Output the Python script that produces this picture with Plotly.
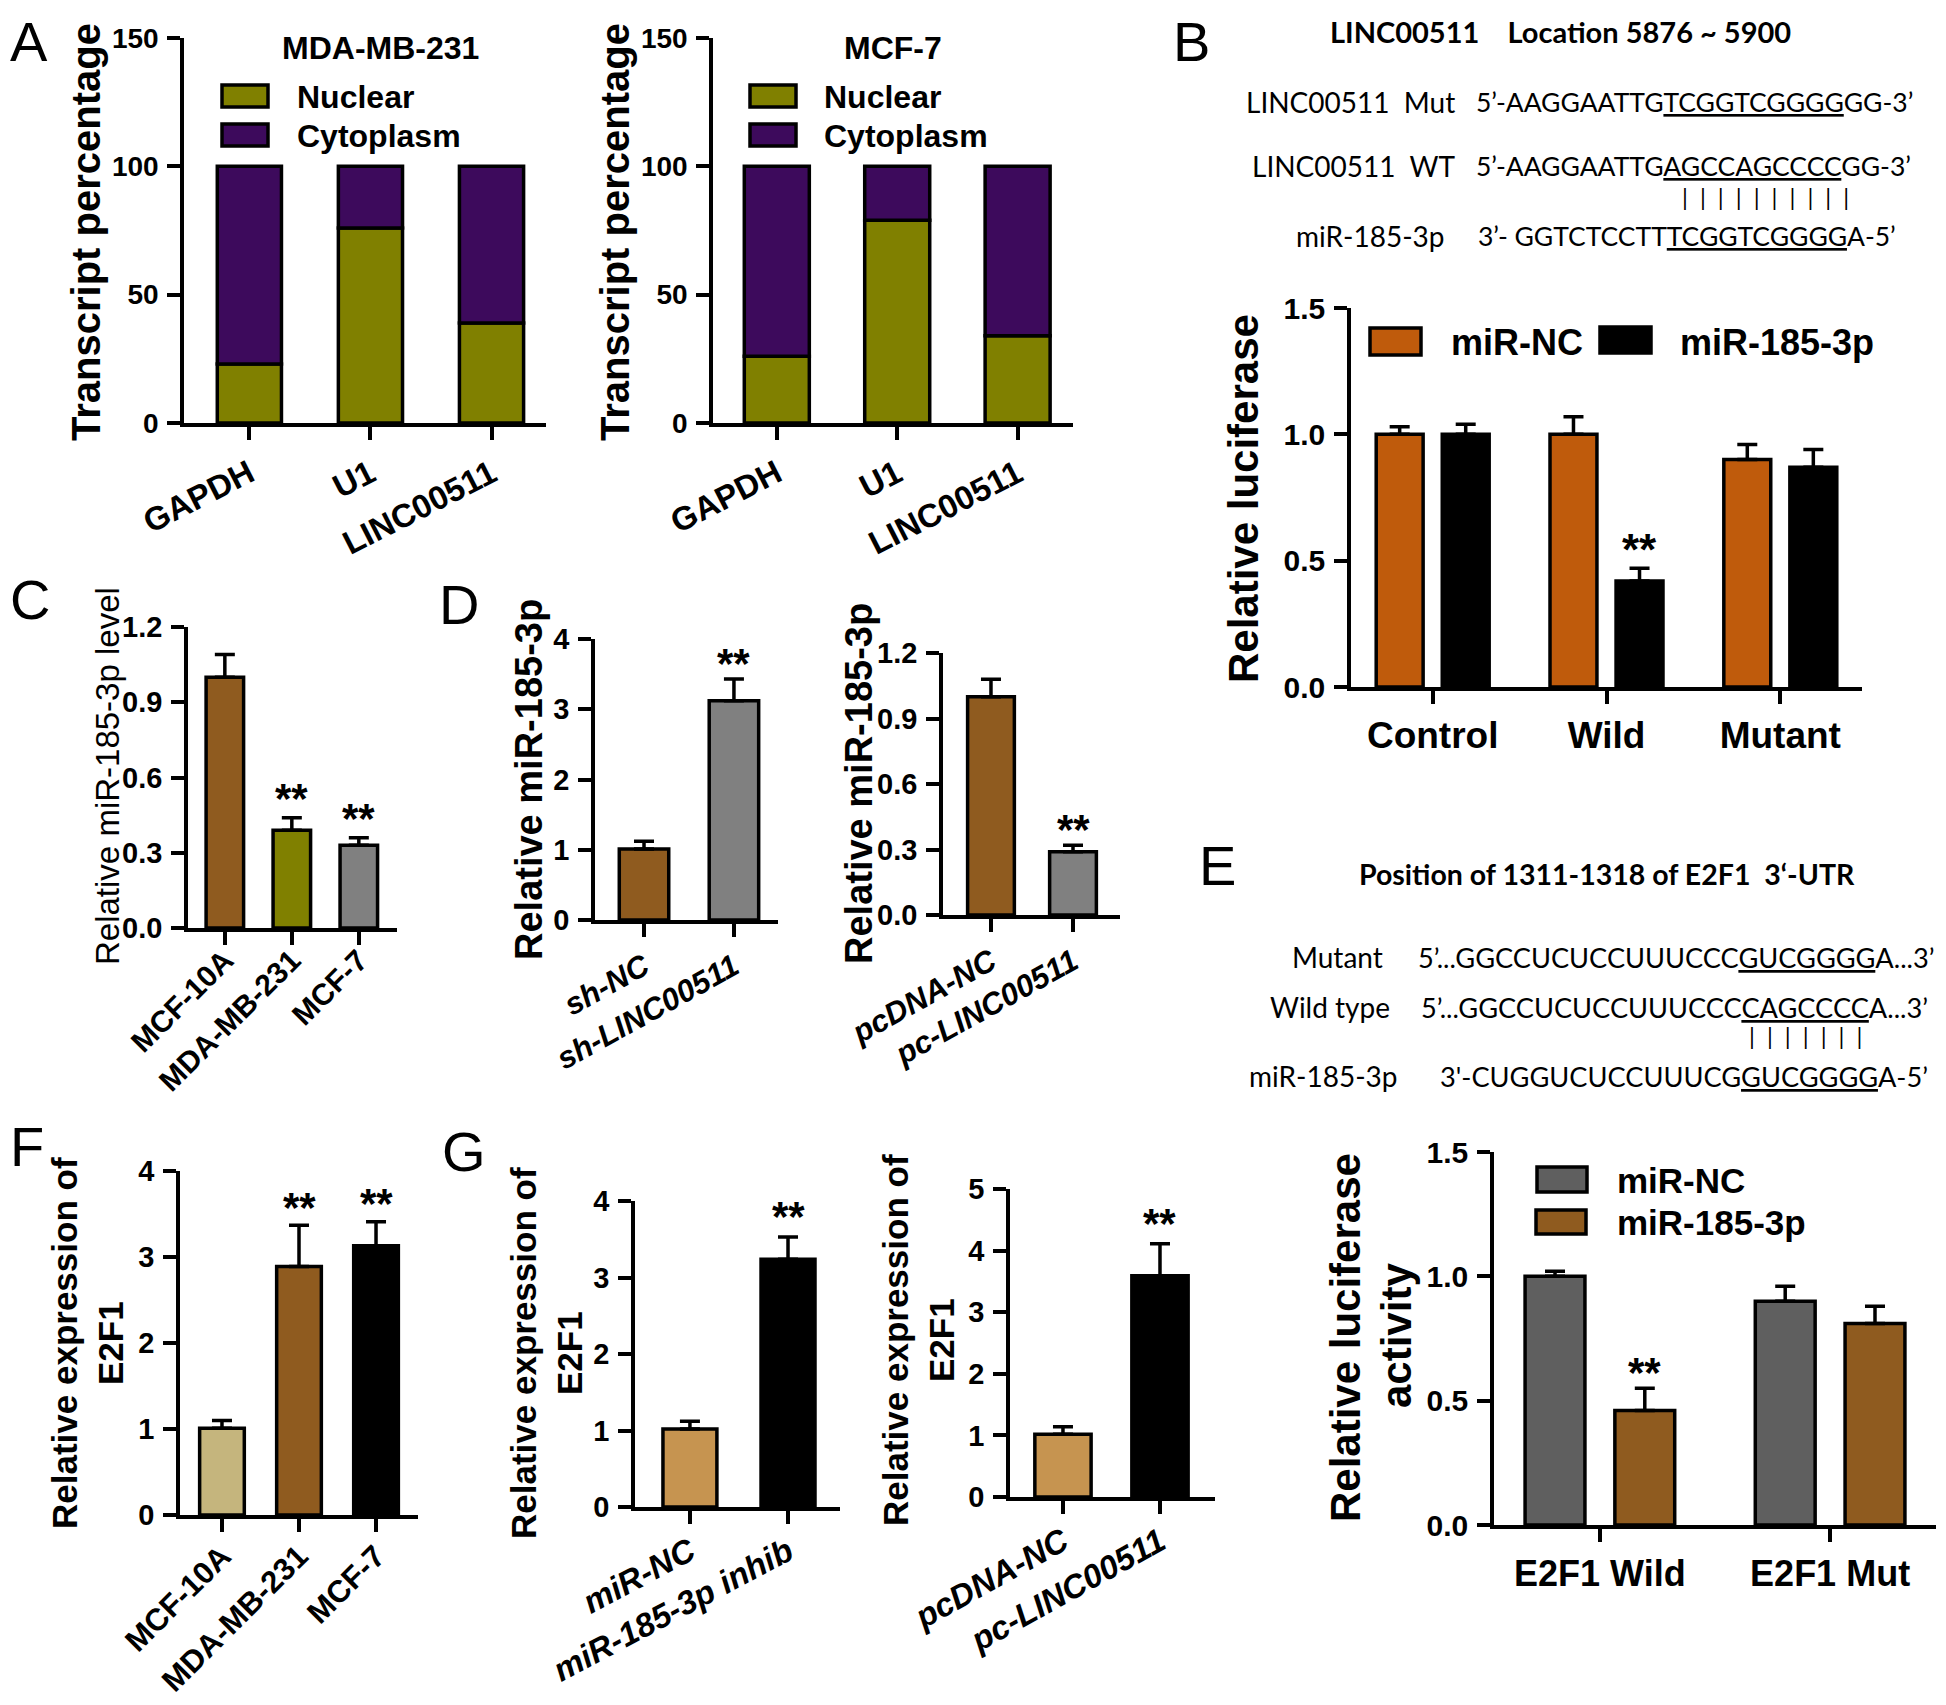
import plotly.graph_objects as go

W, H = 1946, 1705
OFF = 8  # page body margin that the browser adds around the figure
AX = "Liberation Sans, Arial, sans-serif"
SEQ = "Lato, Carlito, Calibri, sans-serif"

# ---------------- data ----------------
# Panel A: nuclear / cytoplasmic fractions (%)
a_genes = ["GAPDH", "U1", "LINC00511"]
a_mda_nuclear = [23, 76, 39]
a_mda_cyto = [77, 24, 61]
a_mcf_nuclear = [26, 79, 34]
a_mcf_cyto = [74, 21, 66]
a_ticks = [0, 50, 100, 150]

# Panel B: luciferase reporter (LINC00511)
b_groups = ["Control", "Wild", "Mutant"]
b_nc = [1.00, 1.00, 0.90]
b_nc_sd = [0.03, 0.07, 0.06]
b_mir = [1.00, 0.42, 0.87]
b_mir_sd = [0.04, 0.05, 0.07]
b_sig = ["", "**", ""]
b_ticks = [0.0, 0.5, 1.0, 1.5]

# Panel C
c_cells = ["MCF-10A", "MDA-MB-231", "MCF-7"]
c_vals = [1.00, 0.39, 0.33]
c_sd = [0.09, 0.05, 0.03]
c_sig = ["", "**", "**"]
c_ticks = [0.0, 0.3, 0.6, 0.9, 1.2]

# Panel D
d1_groups = ["sh-NC", "sh-LINC00511"]
d1_vals = [1.01, 3.12]
d1_sd = [0.11, 0.31]
d1_sig = ["", "**"]
d1_ticks = [0, 1, 2, 3, 4]
d2_groups = ["pcDNA-NC", "pc-LINC00511"]
d2_vals = [1.00, 0.29]
d2_sd = [0.08, 0.03]
d2_sig = ["", "**"]
d2_ticks = [0.0, 0.3, 0.6, 0.9, 1.2]

# Panel E: luciferase reporter (E2F1 3'-UTR)
e_groups = ["E2F1 Wild", "E2F1 Mut"]
e_nc = [1.00, 0.90]
e_nc_sd = [0.02, 0.06]
e_mir = [0.46, 0.81]
e_mir_sd = [0.09, 0.07]
e_sig = ["**", ""]
e_ticks = [0.0, 0.5, 1.0, 1.5]

# Panel F
f_cells = ["MCF-10A", "MDA-MB-231", "MCF-7"]
f_vals = [1.01, 2.89, 3.13]
f_sd = [0.09, 0.48, 0.28]
f_sig = ["", "**", "**"]
f_ticks = [0, 1, 2, 3, 4]

# Panel G
g1_groups = ["miR-NC", "miR-185-3p inhib"]
g1_vals = [1.02, 3.24]
g1_sd = [0.10, 0.29]
g1_sig = ["", "**"]
g1_ticks = [0, 1, 2, 3, 4]
g2_groups = ["pcDNA-NC", "pc-LINC00511"]
g2_vals = [1.02, 3.59]
g2_sd = [0.12, 0.52]
g2_sig = ["", "**"]
g2_ticks = [0, 1, 2, 3, 4, 5]

# ---------------- colours ----------------
OLIVE = "#808000"
PURPLE = "#3d0a5c"
ORANGE = "#bf5b0c"
BROWN = "#8f5b1f"
GRAY = "#808080"
DGRAY = "#5f5f5f"
KHAKI = "#c5b57d"
TAN = "#c69450"
BLACK = "#000000"
LW = 3.5

fig = go.Figure()
layout = dict(width=W, height=H, autosize=False,
              margin=dict(l=0, r=0, t=0, b=0, pad=0, autoexpand=False),
              paper_bgcolor="white", plot_bgcolor="white",
              barmode="overlay", showlegend=False)
ann = []
shapes = []


def ref(n):
    return ("x", "y") if n == 1 else (f"x{n}", f"y{n}")


def px(x):
    return (x - OFF) / W


def py(y):
    return 1 - (y - OFF) / H


def axes(n, x0, x1, ytop, ybot, xr, yticks, yfmt, tfs, xfs, angle, italic=False, standoff=6):
    xr_, yr_ = ref(n)
    xa = "xaxis" if n == 1 else f"xaxis{n}"
    ya = "yaxis" if n == 1 else f"yaxis{n}"
    common = dict(showline=True, linewidth=LW, linecolor="black", ticks="outside",
                  ticklen=13, tickwidth=LW, tickcolor="black", showgrid=False,
                  zeroline=False, fixedrange=True, automargin=False)
    layout[xa] = dict(domain=[px(x0), px(x1)], anchor=yr_, range=xr, tickangle=angle,
                      ticklabelstandoff=standoff,
                      tickfont=dict(family=AX, size=xfs, color="black", weight="bold",
                                    style="italic" if italic else "normal"),
                      **common)
    layout[ya] = dict(domain=[py(ybot), py(ytop)], anchor=xr_,
                      range=[yticks[0], yticks[-1]], tickvals=yticks,
                      ticktext=[format(v, yfmt) for v in yticks], ticklabelstandoff=3,
                      tickfont=dict(family=AX, size=tfs, color="black", weight="bold"),
                      **common)


def bars(n, cats, vals, colors, sd=None, width=0.56, offset=None, base=None, name=None):
    xr_, yr_ = ref(n)
    kw = dict(x=cats, y=vals, width=width, xaxis=xr_, yaxis=yr_, name=name,
              marker=dict(color=colors, line=dict(color="black", width=LW)))
    if offset is not None:
        kw["offset"] = offset
    if base is not None:
        kw["base"] = base
    if sd is not None:
        kw["error_y"] = dict(type="data", symmetric=False, array=sd,
                             arrayminus=[0] * len(sd), thickness=LW, width=10, color="black")
    fig.add_trace(go.Bar(**kw))


def stars(n, sig, vals, sd, shift=0.0, size=42, yshift=16):
    xr_, yr_ = ref(n)
    for i, s in enumerate(sig):
        if s:
            ann.append(dict(x=i + shift, y=vals[i] + sd[i], xref=xr_, yref=yr_, text=s,
                            showarrow=False, yanchor="middle", yshift=yshift,
                            font=dict(family=AX, size=size, color="black", weight="bold")))


def text(x, y, s, size, family=AX, bold=True, xanchor="center", angle=0, italic=False, pad=1):
    ann.append(dict(x=px(x), y=py(y), xref="paper", yref="paper", text=s, showarrow=False,
                    xanchor=xanchor, yanchor="middle", textangle=angle, borderpad=pad,
                    font=dict(family=family, size=size, color="black",
                              weight="bold" if bold else "normal",
                              style="italic" if italic else "normal")))


def swatch(x0, y0, x1, y1, color):
    shapes.append(dict(type="rect", xref="paper", yref="paper", x0=px(x0), x1=px(x1),
                       y0=py(y1), y1=py(y0), fillcolor=color,
                       line=dict(color="black", width=LW)))


U = '<span style="text-decoration:underline">%s</span>'

# ---------------- Panel A ----------------
axes(1, 184, 546, 38, 423, [-0.54, 2.45], a_ticks, "d", 28, 33, -27, standoff=2)
bars(1, a_genes, a_mda_nuclear, OLIVE, width=0.53, name="Nuclear")
bars(1, a_genes, a_mda_cyto, PURPLE, width=0.53, base=a_mda_nuclear, name="Cytoplasm")
axes(2, 713, 1073, 38, 423, [-0.53, 2.46], a_ticks, "d", 28, 33, -27, standoff=2)
bars(2, a_genes, a_mcf_nuclear, OLIVE, width=0.54, name="Nuclear")
bars(2, a_genes, a_mcf_cyto, PURPLE, width=0.54, base=a_mcf_nuclear, name="Cytoplasm")
text(380, 48, "MDA-MB-231", 32)
text(893, 48, "MCF-7", 32)
for (sx, tx) in [(222, 295), (750, 822)]:
    swatch(sx, 85, sx + 46, 107, OLIVE)
    swatch(sx, 124, sx + 46, 146, PURPLE)
    text(tx, 97, "Nuclear", 32, xanchor="left")
    text(tx, 136, "Cytoplasm", 32, xanchor="left")
text(86, 232, "Transcript percentage", 40, angle=-90)
text(615, 232, "Transcript percentage", 40, angle=-90)

# ---------------- Panel B ----------------
text(1560, 31, "LINC00511\u00a0\u00a0\u00a0\u00a0Location 5876 ~ 5900", 29, family=SEQ)
text(1457, 102, "LINC00511\u00a0\u00a0Mut", 28, family=SEQ, bold=False, xanchor="right")
text(1474, 102, "5’-AAGGAATTG" + U % "TCGGTCGGGG" + "GG-3’", 26.5, family=SEQ, bold=False, xanchor="left")
text(1457, 166, "LINC00511\u00a0\u00a0WT", 28, family=SEQ, bold=False, xanchor="right")
text(1474, 166, "5’-AAGGAATTG" + U % "AGCCAGCCCC" + "GG-3’", 26.5, family=SEQ, bold=False, xanchor="left")
text(1680, 197, "\u00a0\u00a0".join(["|"] * 10), 23.5, family=SEQ, bold=False, xanchor="left")
text(1447, 236, "miR-185-3p", 28, family=SEQ, bold=False, xanchor="right")
text(1476, 236, "3’- GGTCTCCTT" + U % "TCGGTCGGGG" + "A-5’", 26.5, family=SEQ, bold=False, xanchor="left")

axes(3, 1351, 1862, 308, 687, [-0.47, 2.47], b_ticks, ".1f", 30, 37, 0, standoff=0)
bars(3, b_groups, b_nc, ORANGE, b_nc_sd, width=0.27, offset=-0.325, name="miR-NC")
bars(3, b_groups, b_mir, BLACK, b_mir_sd, width=0.27, offset=0.055, name="miR-185-3p")
stars(3, b_sig, b_mir, b_mir_sd, shift=0.19, size=44, yshift=19)
swatch(1370, 328, 1421, 355, ORANGE)
swatch(1600, 327, 1651, 353, BLACK)
text(1449, 342, "miR-NC", 36, xanchor="left")
text(1678, 342, "miR-185-3p", 36, xanchor="left")
text(1243, 499, "Relative luciferase", 42, angle=-90)

# ---------------- Panel C ----------------
axes(4, 188, 397, 627, 928, [-0.55, 2.57], c_ticks, ".1f", 29, 30, -45, standoff=-14)
bars(4, c_cells, c_vals, [BROWN, OLIVE, GRAY], c_sd, width=0.56)
stars(4, c_sig, c_vals, c_sd, yshift=19)
text(107, 776, "Relative miR-185-3p level", 33, bold=False, angle=-90)

# ---------------- Panel D ----------------
axes(5, 595, 778, 639, 920, [-0.545, 1.49], d1_ticks, "d", 29, 31, -29, italic=True, standoff=0)
bars(5, d1_groups, d1_vals, [BROWN, GRAY], d1_sd, width=0.55)
stars(5, d1_sig, d1_vals, d1_sd)
text(529, 780, "Relative miR-185-3p", 38, angle=-90)
axes(6, 943, 1120, 653, 915, [-0.585, 1.573], d2_ticks, ".1f", 29, 31, -29, italic=True, standoff=0)
bars(6, d2_groups, d2_vals, [BROWN, GRAY], d2_sd, width=0.57)
stars(6, d2_sig, d2_vals, d2_sd)
text(859, 784, "Relative miR-185-3p", 38, angle=-90)

# ---------------- Panel E ----------------
text(1607, 874, "Position of 1311-1318 of E2F1\u00a0\u00a03‘-UTR", 28.5, family=SEQ)
text(1385, 957, "Mutant", 28, family=SEQ, bold=False, xanchor="right")
text(1416, 957, "5’...GGCCUCUCCUUUCCC" + U % "GUCGGGG" + "A...3’", 27.2, family=SEQ, bold=False, xanchor="left")
text(1392, 1007, "Wild type", 28, family=SEQ, bold=False, xanchor="right")
text(1419, 1007, "5’...GGCCUCUCCUUUCCC" + U % "CAGCCCC" + "A...3’", 27.2, family=SEQ, bold=False, xanchor="left")
text(1747, 1036, "\u00a0\u00a0".join(["|"] * 7), 23.5, family=SEQ, bold=False, xanchor="left")
text(1400, 1076, "miR-185-3p", 28, family=SEQ, bold=False, xanchor="right")
text(1438, 1076, "3'-CUGGUCUCCUUUCG" + U % "GUCGGGG" + "A-5’", 27.2, family=SEQ, bold=False, xanchor="left")

axes(7, 1494, 1936, 1152, 1525, [-0.46, 1.46], e_ticks, ".1f", 30, 36, 0, standoff=1)
bars(7, e_groups, e_nc, DGRAY, e_nc_sd, width=0.26, offset=-0.325, name="miR-NC")
bars(7, e_groups, e_mir, BROWN, e_mir_sd, width=0.26, offset=0.065, name="miR-185-3p")
stars(7, e_sig, e_mir, e_mir_sd, shift=0.195)
swatch(1537, 1167, 1587, 1192, DGRAY)
swatch(1536, 1210, 1586, 1234, BROWN)
text(1615, 1180, "miR-NC", 35, xanchor="left")
text(1615, 1222, "miR-185-3p", 35, xanchor="left")
text(1345, 1338, "Relative luciferase", 42, angle=-90)
text(1396, 1336, "activity", 42, angle=-90)

# ---------------- Panel F ----------------
axes(8, 180, 418, 1171, 1515, [-0.545, 2.545], f_ticks, "d", 29, 31, -45, standoff=-6)
bars(8, f_cells, f_vals, [KHAKI, BROWN, BLACK], f_sd, width=0.58)
stars(8, f_sig, f_vals, f_sd, yshift=18)
text(87, 1343, "Relative expression of<br>E2F1", 35, angle=-90)

# ---------------- Panel G ----------------
axes(9, 635, 840, 1201, 1507, [-0.56, 1.53], g1_ticks, "d", 29, 33, -28, italic=True, standoff=-4)
bars(9, g1_groups, g1_vals, [TAN, BLACK], g1_sd, width=0.55)
stars(9, g1_sig, g1_vals, g1_sd, yshift=20)
text(546, 1353, "Relative expression of<br>E2F1", 35, angle=-90)
axes(10, 1010, 1215, 1189, 1497, [-0.546, 1.567], g2_ticks, "d", 29, 33, -29, italic=True, standoff=-4)
bars(10, g2_groups, g2_vals, [TAN, BLACK], g2_sd, width=0.58)
stars(10, g2_sig, g2_vals, g2_sd, yshift=20)
text(918, 1340, "Relative expression of<br>E2F1", 35, angle=-90)

# ---------------- panel letters ----------------
for letter, (lx, ly) in {"A": (9, 41), "B": (1172, 41), "C": (9, 599), "D": (438, 605),
                         "E": (1198, 866), "F": (9, 1146), "G": (441, 1151)}.items():
    text(lx, ly, letter, 56, bold=False, xanchor="left", pad=0)

layout["annotations"] = ann
layout["shapes"] = shapes
fig.update_layout(**layout)
fig.write_html("out.html")
